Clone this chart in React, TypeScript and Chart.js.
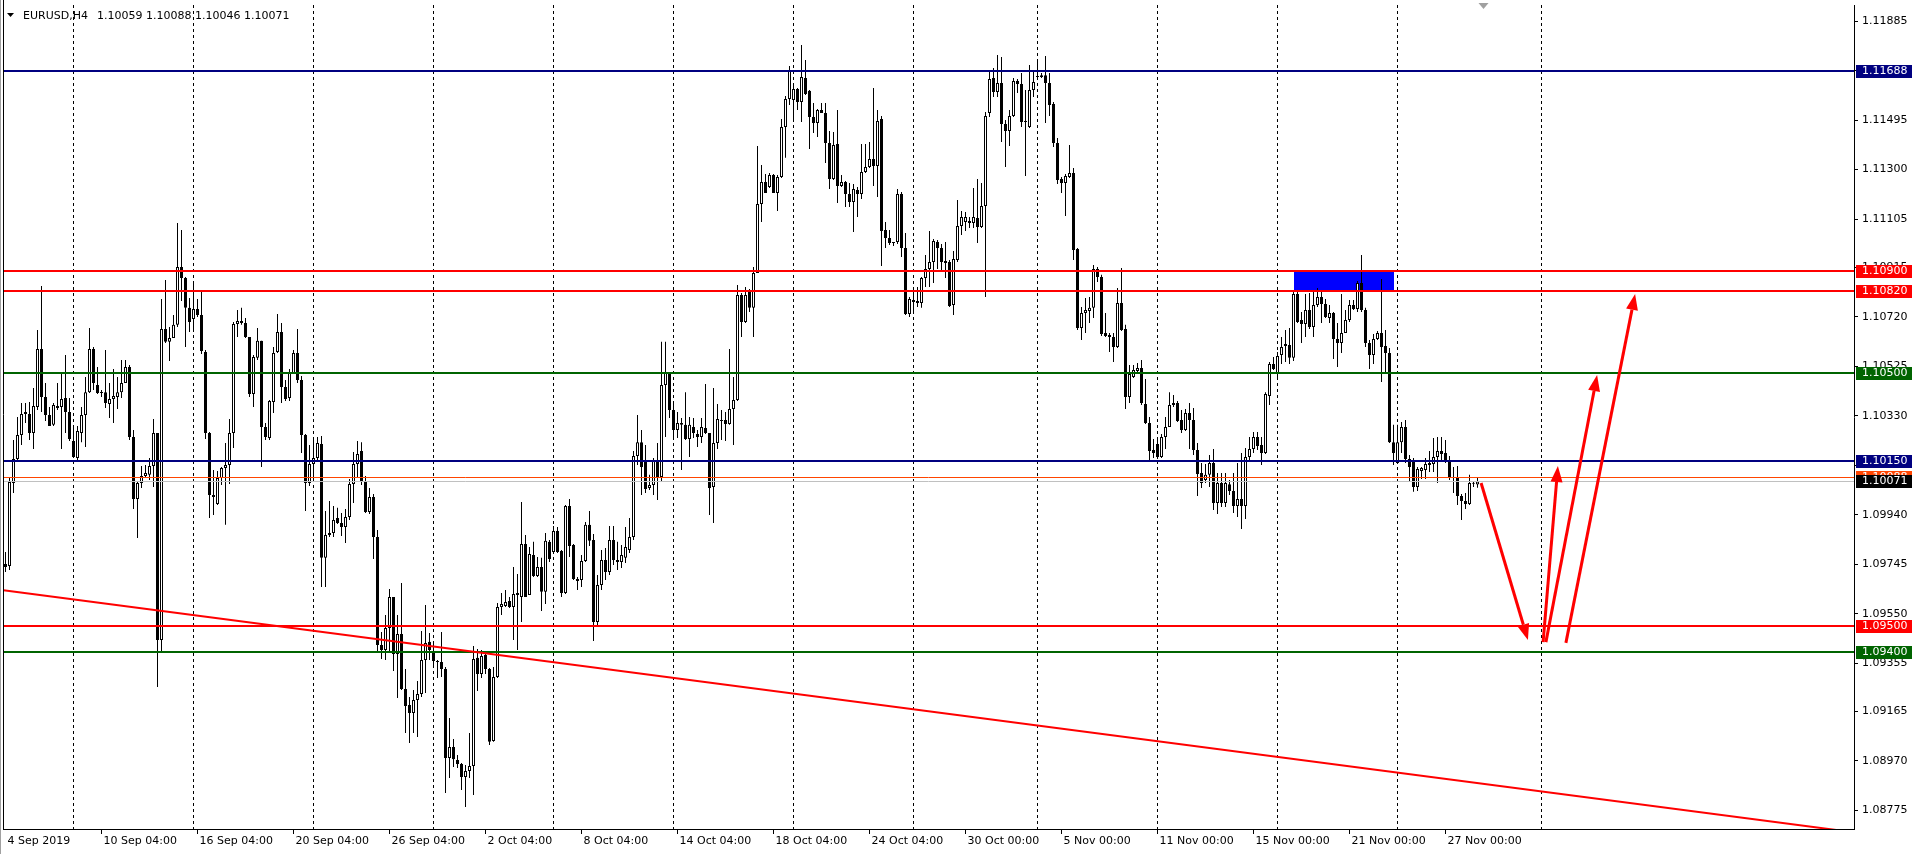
import React, { useEffect, useRef } from "react";
import { Chart, registerables } from "chart.js";

Chart.register(...registerables);

const SYMBOL = "EURUSD,H4";

const OPEN = [
  1.09746, 1.09738, 1.10065, 1.10160, 1.10254, 1.10337, 1.10337, 1.10262, 1.10364, 1.10593,
  1.10404, 1.10333, 1.10294, 1.10368, 1.10364, 1.10400, 1.10345, 1.10230, 1.10163, 1.10262,
  1.10333, 1.10423, 1.10593, 1.10451, 1.10423, 1.10423, 1.10376, 1.10396, 1.10404, 1.10423,
  1.10459, 1.10522, 1.10246, 1.10002, 1.10065, 1.10093, 1.10097, 1.10132, 1.10262, 1.09446,
  1.10672, 1.10621, 1.10636, 1.10688, 1.10916, 1.10873, 1.10755, 1.10711, 1.10751, 1.10727,
  1.10581, 1.10262, 1.10018, 1.09982, 1.10085, 1.10124, 1.10136, 1.10262, 1.10691, 1.10703,
  1.10695, 1.10640, 1.10416, 1.10558, 1.10625, 1.10286, 1.10242, 1.10384, 1.10581, 1.10660,
  1.10443, 1.10400, 1.10498, 1.10577, 1.10471, 1.10254, 1.10065, 1.10140, 1.10163, 1.10219,
  1.09770, 1.09860, 1.09868, 1.09927, 1.09907, 1.09892, 1.09931, 1.10061, 1.10140, 1.10191,
  1.10069, 1.09951, 1.10010, 1.09852, 1.09427, 1.09407, 1.09494, 1.09616, 1.09391, 1.09470,
  1.09253, 1.09190, 1.09159, 1.09210, 1.09234, 1.09368, 1.09439, 1.09395, 1.09360, 1.09360,
  1.09332, 1.08981, 1.09025, 1.08974, 1.08958, 1.08907, 1.08930, 1.08950, 1.09376, 1.09312,
  1.09387, 1.09332, 1.09048, 1.09301, 1.09576, 1.09580, 1.09600, 1.09576, 1.09632, 1.09616,
  1.09825, 1.09624, 1.09781, 1.09699, 1.09734, 1.09636, 1.09833, 1.09793, 1.09876, 1.09797,
  1.09632, 1.09974, 1.09821, 1.09687, 1.09683, 1.09758, 1.09900, 1.09840, 1.09517, 1.09663,
  1.09762, 1.09714, 1.09840, 1.09762, 1.09754, 1.09770, 1.09801, 1.09852, 1.10171, 1.10226,
  1.10156, 1.10045, 1.10057, 1.10156, 1.10089, 1.10451, 1.10498, 1.10353, 1.10274, 1.10301,
  1.10294, 1.10238, 1.10286, 1.10258, 1.10246, 1.10282, 1.10262, 1.10049, 1.10223, 1.10309,
  1.10313, 1.10297, 1.10357, 1.10392, 1.10806, 1.10699, 1.10818, 1.10755, 1.10892, 1.11164,
  1.11251, 1.11231, 1.11278, 1.11208, 1.11271, 1.11468, 1.11578, 1.11574, 1.11617, 1.11566,
  1.11661, 1.11610, 1.11507, 1.11483, 1.11535, 1.11523, 1.11405, 1.11263, 1.11401, 1.11235,
  1.11251, 1.11204, 1.11172, 1.11219, 1.11204, 1.11290, 1.11310, 1.11342, 1.11314, 1.11499,
  1.11062, 1.11030, 1.11015, 1.11015, 1.11204, 1.10991, 1.10731, 1.10786, 1.10782, 1.10774,
  1.10873, 1.10908, 1.10936, 1.11015, 1.10991, 1.10940, 1.10936, 1.10766, 1.10944, 1.11078,
  1.11093, 1.11097, 1.11089, 1.11109, 1.11074, 1.11156, 1.11523, 1.11661, 1.11606, 1.11641,
  1.11479, 1.11452, 1.11511, 1.11649, 1.11637, 1.11487, 1.11468, 1.11613, 1.11665, 1.11665,
  1.11672, 1.11641, 1.11558, 1.11405, 1.11263, 1.11247, 1.11271, 1.11286, 1.10987, 1.10676,
  1.10735, 1.10743, 1.10755, 1.10908, 1.10877, 1.10656, 1.10648, 1.10640, 1.10601, 1.10774,
  1.10672, 1.10404, 1.10483, 1.10506, 1.10518, 1.10376, 1.10301, 1.10195, 1.10219, 1.10167,
  1.10246, 1.10286, 1.10372, 1.10380, 1.10313, 1.10274, 1.10341, 1.10313, 1.10195, 1.10104,
  1.10077, 1.10097, 1.10144, 1.09986, 1.10065, 1.09986, 1.10060, 1.10033, 1.09974, 1.10002,
  1.09974, 1.10167, 1.10199, 1.10246, 1.10215, 1.10183, 1.10408, 1.10534, 1.10498, 1.10569,
  1.10613, 1.10609, 1.10558, 1.10810, 1.10707, 1.10691, 1.10747, 1.10680, 1.10766, 1.10798,
  1.10770, 1.10715, 1.10735, 1.10632, 1.10617, 1.10656, 1.10707, 1.10766, 1.10751, 1.10853,
  1.10747, 1.10617, 1.10569, 1.10632, 1.10656, 1.10605, 1.10577, 1.10226, 1.10144, 1.10226,
  1.10286, 1.10160, 1.10152, 1.10049, 1.10112, 1.10116, 1.10144, 1.10140, 1.10167, 1.10191,
  1.10183, 1.10148, 1.10089, 1.10085, 1.10014, 1.09994, 1.09982, 1.10065, 1.10059,
];

const HIGH = [
  1.09793, 1.10089, 1.10234, 1.10325, 1.10380, 1.10380, 1.10384, 1.10439, 1.10668, 1.10841,
  1.10459, 1.10364, 1.10380, 1.10459, 1.10494, 1.10569, 1.10400, 1.10286, 1.10290, 1.10364,
  1.10483, 1.10676, 1.10601, 1.10522, 1.10431, 1.10589, 1.10459, 1.10514, 1.10483, 1.10550,
  1.10550, 1.10530, 1.10274, 1.10073, 1.10132, 1.10136, 1.10163, 1.10317, 1.10262, 1.10790,
  1.10865, 1.10680, 1.10727, 1.11089, 1.11062, 1.10877, 1.10794, 1.10861, 1.10790, 1.10818,
  1.10589, 1.10266, 1.10116, 1.10112, 1.10128, 1.10223, 1.10317, 1.10699, 1.10747, 1.10755,
  1.10715, 1.10640, 1.10569, 1.10676, 1.10625, 1.10301, 1.10392, 1.10601, 1.10731, 1.10695,
  1.10471, 1.10514, 1.10589, 1.10672, 1.10487, 1.10258, 1.10215, 1.10242, 1.10246, 1.10250,
  1.09955, 1.09994, 1.09974, 1.09967, 1.09947, 1.09963, 1.10081, 1.10187, 1.10230, 1.10226,
  1.10093, 1.10045, 1.10022, 1.09880, 1.09478, 1.09545, 1.09647, 1.09616, 1.09545, 1.09671,
  1.09332, 1.09222, 1.09249, 1.09285, 1.09482, 1.09584, 1.09474, 1.09435, 1.09368, 1.09478,
  1.09340, 1.09139, 1.09056, 1.08993, 1.08962, 1.08954, 1.09080, 1.09423, 1.09411, 1.09407,
  1.09399, 1.09336, 1.09340, 1.09592, 1.09632, 1.09643, 1.09616, 1.09734, 1.09706, 1.09990,
  1.09860, 1.09813, 1.09833, 1.09773, 1.09770, 1.09868, 1.09840, 1.09896, 1.09892, 1.09801,
  1.09978, 1.10002, 1.09825, 1.09695, 1.09781, 1.09911, 1.09955, 1.09864, 1.09702, 1.09801,
  1.09809, 1.09896, 1.09896, 1.09833, 1.09821, 1.09892, 1.09927, 1.10191, 1.10333, 1.10274,
  1.10215, 1.10097, 1.10163, 1.10223, 1.10621, 1.10621, 1.10502, 1.10384, 1.10345, 1.10321,
  1.10423, 1.10325, 1.10321, 1.10274, 1.10321, 1.10455, 1.10262, 1.10439, 1.10376, 1.10353,
  1.10345, 1.10593, 1.10483, 1.10845, 1.10814, 1.10837, 1.10829, 1.10916, 1.11393, 1.11318,
  1.11282, 1.11286, 1.11282, 1.11278, 1.11499, 1.11590, 1.11708, 1.11641, 1.11621, 1.11791,
  1.11732, 1.11613, 1.11562, 1.11539, 1.11562, 1.11562, 1.11452, 1.11448, 1.11535, 1.11278,
  1.11255, 1.11247, 1.11243, 1.11231, 1.11401, 1.11401, 1.11409, 1.11621, 1.11535, 1.11511,
  1.11093, 1.11062, 1.11015, 1.11223, 1.11212, 1.11050, 1.10798, 1.10825, 1.10837, 1.10877,
  1.10963, 1.11058, 1.11026, 1.11022, 1.11007, 1.11015, 1.10944, 1.10979, 1.11180, 1.11137,
  1.11133, 1.11113, 1.11227, 1.11263, 1.11247, 1.11527, 1.11692, 1.11700, 1.11751, 1.11743,
  1.11495, 1.11535, 1.11661, 1.11657, 1.11680, 1.11613, 1.11712, 1.11692, 1.11728, 1.11680,
  1.11747, 1.11680, 1.11566, 1.11424, 1.11271, 1.11282, 1.11397, 1.11306, 1.10991, 1.10758,
  1.10794, 1.10798, 1.10924, 1.10916, 1.10885, 1.10735, 1.10656, 1.10656, 1.10833, 1.10912,
  1.10688, 1.10530, 1.10530, 1.10538, 1.10550, 1.10475, 1.10325, 1.10238, 1.10246, 1.10258,
  1.10325, 1.10423, 1.10412, 1.10388, 1.10353, 1.10357, 1.10380, 1.10360, 1.10223, 1.10144,
  1.10140, 1.10175, 1.10199, 1.10104, 1.10104, 1.10104, 1.10077, 1.10104, 1.10144, 1.10183,
  1.10203, 1.10246, 1.10266, 1.10266, 1.10246, 1.10423, 1.10542, 1.10561, 1.10581, 1.10640,
  1.10668, 1.10676, 1.10821, 1.10818, 1.10739, 1.10810, 1.10814, 1.10818, 1.10833, 1.10818,
  1.10790, 1.10766, 1.10739, 1.10695, 1.10810, 1.10747, 1.10786, 1.10786, 1.10861, 1.10963,
  1.10755, 1.10628, 1.10652, 1.10664, 1.10869, 1.10668, 1.10597, 1.10294, 1.10294, 1.10305,
  1.10313, 1.10175, 1.10163, 1.10128, 1.10128, 1.10163, 1.10191, 1.10242, 1.10246, 1.10246,
  1.10234, 1.10171, 1.10128, 1.10132, 1.10022, 1.10026, 1.10097, 1.10073, 1.10088,
];

const LOW = [
  1.09714, 1.09722, 1.10026, 1.10152, 1.10215, 1.10301, 1.10234, 1.10199, 1.10353, 1.10345,
  1.10309, 1.10290, 1.10290, 1.10353, 1.10199, 1.10262, 1.10230, 1.10163, 1.10156, 1.10226,
  1.10207, 1.10420, 1.10431, 1.10416, 1.10404, 1.10360, 1.10321, 1.10301, 1.10357, 1.10400,
  1.10459, 1.10234, 1.09963, 1.09848, 1.10045, 1.10085, 1.10077, 1.10049, 1.09261, 1.09399,
  1.10617, 1.10546, 1.10636, 1.10680, 1.10782, 1.10601, 1.10660, 1.10660, 1.10719, 1.10573,
  1.10238, 1.09927, 1.09939, 1.09978, 1.10057, 1.09900, 1.10061, 1.10203, 1.10640, 1.10688,
  1.10636, 1.10404, 1.10364, 1.10550, 1.10128, 1.10234, 1.10234, 1.10341, 1.10577, 1.10380,
  1.10388, 1.10388, 1.10498, 1.10459, 1.10183, 1.09955, 1.10053, 1.10069, 1.10148, 1.09655,
  1.09655, 1.09852, 1.09852, 1.09903, 1.09856, 1.09829, 1.09919, 1.09986, 1.10085, 1.10057,
  1.09947, 1.09943, 1.09766, 1.09395, 1.09372, 1.09368, 1.09395, 1.09324, 1.09218, 1.09249,
  1.09080, 1.09041, 1.09080, 1.09064, 1.09222, 1.09238, 1.09368, 1.09336, 1.09297, 1.09301,
  1.08844, 1.08903, 1.08946, 1.08942, 1.08855, 1.08788, 1.08903, 1.08836, 1.09245, 1.09297,
  1.09312, 1.09033, 1.09045, 1.09297, 1.09545, 1.09576, 1.09572, 1.09446, 1.09407, 1.09517,
  1.09616, 1.09624, 1.09695, 1.09695, 1.09561, 1.09588, 1.09754, 1.09793, 1.09789, 1.09616,
  1.09628, 1.09773, 1.09683, 1.09643, 1.09655, 1.09754, 1.09817, 1.09442, 1.09505, 1.09643,
  1.09683, 1.09702, 1.09742, 1.09722, 1.09730, 1.09750, 1.09789, 1.09840, 1.10136, 1.10018,
  1.10026, 1.10037, 1.10018, 1.09998, 1.10069, 1.10246, 1.10321, 1.10234, 1.10242, 1.10116,
  1.10234, 1.10167, 1.10242, 1.10207, 1.10223, 1.10258, 1.09939, 1.09907, 1.10199, 1.10234,
  1.10230, 1.10294, 1.10215, 1.10388, 1.10640, 1.10695, 1.10739, 1.10640, 1.10892, 1.11093,
  1.11208, 1.11227, 1.11208, 1.11137, 1.11267, 1.11346, 1.11554, 1.11487, 1.11535, 1.11487,
  1.11594, 1.11381, 1.11444, 1.11428, 1.11523, 1.11326, 1.11223, 1.11259, 1.11168, 1.11231,
  1.11152, 1.11152, 1.11054, 1.11113, 1.11184, 1.11286, 1.11306, 1.11235, 1.11192, 1.10920,
  1.10991, 1.11003, 1.10999, 1.11007, 1.10955, 1.10727, 1.10719, 1.10731, 1.10758, 1.10755,
  1.10837, 1.10837, 1.10853, 1.10908, 1.10904, 1.10873, 1.10758, 1.10727, 1.10936, 1.11042,
  1.11058, 1.11070, 1.11070, 1.11011, 1.11070, 1.10798, 1.11507, 1.11586, 1.11586, 1.11409,
  1.11310, 1.11393, 1.11507, 1.11602, 1.11468, 1.11275, 1.11464, 1.11586, 1.11661, 1.11661,
  1.11483, 1.11511, 1.11389, 1.11243, 1.11208, 1.11117, 1.11267, 1.10944, 1.10668, 1.10628,
  1.10656, 1.10695, 1.10715, 1.10857, 1.10644, 1.10640, 1.10581, 1.10542, 1.10597, 1.10664,
  1.10357, 1.10380, 1.10479, 1.10502, 1.10372, 1.10297, 1.10152, 1.10163, 1.10160, 1.10163,
  1.10199, 1.10286, 1.10364, 1.10305, 1.10262, 1.10270, 1.10199, 1.10175, 1.10014, 1.10045,
  1.10065, 1.10049, 1.09959, 1.09943, 1.09970, 1.09970, 1.10018, 1.09947, 1.09931, 1.09884,
  1.09923, 1.10156, 1.10183, 1.10195, 1.10136, 1.10179, 1.10372, 1.10510, 1.10479, 1.10534,
  1.10542, 1.10534, 1.10546, 1.10695, 1.10617, 1.10640, 1.10672, 1.10640, 1.10758, 1.10695,
  1.10715, 1.10695, 1.10554, 1.10522, 1.10577, 1.10656, 1.10699, 1.10747, 1.10739, 1.10739,
  1.10601, 1.10514, 1.10534, 1.10628, 1.10463, 1.10502, 1.10223, 1.10136, 1.10140, 1.10183,
  1.10144, 1.10069, 1.10030, 1.10033, 1.10081, 1.10081, 1.10108, 1.10108, 1.10065, 1.10156,
  1.10144, 1.10077, 1.10026, 1.09978, 1.09919, 1.09963, 1.09978, 1.10049, 1.10046,
];

const CLOSE = [
  1.09734, 1.10069, 1.10160, 1.10254, 1.10337, 1.10345, 1.10262, 1.10368, 1.10593, 1.10404,
  1.10333, 1.10290, 1.10372, 1.10360, 1.10396, 1.10345, 1.10238, 1.10167, 1.10270, 1.10333,
  1.10423, 1.10593, 1.10459, 1.10420, 1.10420, 1.10380, 1.10396, 1.10408, 1.10423, 1.10459,
  1.10522, 1.10246, 1.10002, 1.10065, 1.10093, 1.10104, 1.10132, 1.10262, 1.09446, 1.10672,
  1.10621, 1.10636, 1.10688, 1.10916, 1.10873, 1.10755, 1.10699, 1.10751, 1.10727, 1.10585,
  1.10262, 1.10018, 1.10010, 1.10085, 1.10124, 1.10136, 1.10262, 1.10691, 1.10703, 1.10695,
  1.10640, 1.10416, 1.10561, 1.10625, 1.10286, 1.10246, 1.10388, 1.10577, 1.10660, 1.10443,
  1.10396, 1.10498, 1.10577, 1.10471, 1.10254, 1.10065, 1.10140, 1.10163, 1.10223, 1.09770,
  1.09860, 1.09868, 1.09919, 1.09907, 1.09892, 1.09931, 1.10061, 1.10140, 1.10179, 1.10069,
  1.09951, 1.10010, 1.09852, 1.09427, 1.09407, 1.09494, 1.09616, 1.09391, 1.09470, 1.09253,
  1.09186, 1.09159, 1.09210, 1.09234, 1.09368, 1.09435, 1.09407, 1.09364, 1.09360, 1.09332,
  1.08981, 1.09025, 1.08977, 1.08958, 1.08907, 1.08930, 1.08950, 1.09372, 1.09312, 1.09383,
  1.09332, 1.09045, 1.09301, 1.09576, 1.09588, 1.09596, 1.09576, 1.09628, 1.09624, 1.09825,
  1.09616, 1.09785, 1.09699, 1.09734, 1.09636, 1.09837, 1.09766, 1.09876, 1.09793, 1.09632,
  1.09974, 1.09817, 1.09687, 1.09679, 1.09758, 1.09900, 1.09837, 1.09517, 1.09663, 1.09762,
  1.09714, 1.09840, 1.09762, 1.09754, 1.09781, 1.09813, 1.09852, 1.10171, 1.10226, 1.10128,
  1.10041, 1.10057, 1.10156, 1.10089, 1.10451, 1.10498, 1.10353, 1.10274, 1.10301, 1.10294,
  1.10238, 1.10294, 1.10262, 1.10246, 1.10286, 1.10262, 1.10045, 1.10223, 1.10317, 1.10313,
  1.10297, 1.10357, 1.10392, 1.10806, 1.10699, 1.10806, 1.10755, 1.10892, 1.11164, 1.11251,
  1.11208, 1.11278, 1.11208, 1.11271, 1.11468, 1.11578, 1.11688, 1.11617, 1.11566, 1.11665,
  1.11598, 1.11507, 1.11483, 1.11535, 1.11523, 1.11405, 1.11263, 1.11397, 1.11235, 1.11251,
  1.11204, 1.11172, 1.11223, 1.11204, 1.11290, 1.11310, 1.11342, 1.11314, 1.11491, 1.11058,
  1.11030, 1.11011, 1.11011, 1.11204, 1.10991, 1.10731, 1.10790, 1.10778, 1.10774, 1.10873,
  1.10908, 1.10936, 1.11018, 1.10991, 1.10936, 1.10932, 1.10762, 1.10948, 1.11078, 1.11113,
  1.11113, 1.11089, 1.11113, 1.11074, 1.11156, 1.11511, 1.11657, 1.11606, 1.11641, 1.11479,
  1.11452, 1.11511, 1.11649, 1.11637, 1.11487, 1.11491, 1.11613, 1.11645, 1.11669, 1.11672,
  1.11641, 1.11554, 1.11405, 1.11259, 1.11247, 1.11275, 1.11286, 1.10983, 1.10676, 1.10735,
  1.10747, 1.10755, 1.10908, 1.10877, 1.10652, 1.10644, 1.10640, 1.10601, 1.10774, 1.10668,
  1.10404, 1.10494, 1.10510, 1.10518, 1.10380, 1.10301, 1.10191, 1.10183, 1.10167, 1.10246,
  1.10286, 1.10372, 1.10380, 1.10309, 1.10274, 1.10341, 1.10313, 1.10195, 1.10100, 1.10065,
  1.10097, 1.10144, 1.09986, 1.10065, 1.09986, 1.10065, 1.10033, 1.09974, 1.10002, 1.09974,
  1.10167, 1.10199, 1.10246, 1.10211, 1.10183, 1.10416, 1.10534, 1.10514, 1.10565, 1.10601,
  1.10605, 1.10558, 1.10810, 1.10699, 1.10691, 1.10747, 1.10680, 1.10766, 1.10798, 1.10770,
  1.10719, 1.10735, 1.10632, 1.10617, 1.10656, 1.10707, 1.10766, 1.10751, 1.10853, 1.10747,
  1.10617, 1.10569, 1.10632, 1.10656, 1.10601, 1.10577, 1.10226, 1.10183, 1.10226, 1.10286,
  1.10160, 1.10128, 1.10049, 1.10120, 1.10124, 1.10140, 1.10136, 1.10167, 1.10191, 1.10179,
  1.10148, 1.10089, 1.10085, 1.10014, 1.09994, 1.09982, 1.10065, 1.10062, 1.10071,
];

// time axis labels (bar index -> text)
const X_TICK_INDEX = [0, 24, 48, 72, 96, 120, 144, 168, 192, 216, 240, 264, 288, 312, 336, 360];
const X_TICK_LABELS = [
  "4 Sep 2019", "10 Sep 04:00", "16 Sep 04:00", "20 Sep 04:00", "26 Sep 04:00",
  "2 Oct 04:00", "8 Oct 04:00", "14 Oct 04:00", "18 Oct 04:00", "24 Oct 04:00",
  "30 Oct 00:00", "5 Nov 00:00", "11 Nov 00:00", "15 Nov 00:00", "21 Nov 00:00", "27 Nov 00:00",
];
// weekly separators (bar index)
const WEEK_GRID_INDEX = [17, 47, 77, 107, 137, 167, 197, 227, 258, 288, 318, 348, 384];

// price scale labels
const Y_TICKS = [
  1.11885, 1.1169, 1.11495, 1.113, 1.11105, 1.10915, 1.1072, 1.10525, 1.1033,
  1.10135, 1.0994, 1.09745, 1.0955, 1.09355, 1.09165, 1.0897, 1.08775,
];
const Y_MIN = 1.087017;
const Y_MAX = 1.119483;
const X_MIN = -0.625;
const X_MAX = 462.125;

// horizontal levels
const LEVEL_PRICES = [1.11688, 1.109, 1.1082, 1.105, 1.1015, 1.095, 1.094];
const LEVEL_COLORS = ["#000080", "#FF0000", "#FF0000", "#006400", "#000080", "#FF0000", "#006400"];
const ASK_PRICE = 1.10088;
const BID_PRICE = CLOSE[CLOSE.length - 1];

// right-side price tags (drawn in this order)
const TAG_PRICES = [1.11688, 1.109, 1.1082, 1.105, 1.095, 1.094, 1.10088, 1.1015, 1.10071];
const TAG_COLORS = ["#000080", "#FF0000", "#FF0000", "#006400", "#FF0000", "#006400", "#FF4500", "#000080", "#000000"];

// blue zone (bar range, price range)
const ZONE_BARS = [322, 347];
const ZONE_PRICES = [1.1082, 1.109];

// red trend line (bar index, price)
const TREND_BARS = [-0.5, 460];
const TREND_PRICES = [1.09642, 1.08693];

// red arrows (from bar/price -> to bar/price)
const ARROW_FROM_BAR = [368.9, 384.4, 385.1, 390.1];
const ARROW_FROM_PRICE = [1.10065, 1.09438, 1.09438, 1.09435];
const ARROW_TO_BAR = [380.6, 388.1, 397.9, 407.4];
const ARROW_TO_PRICE = [1.09446, 1.10132, 1.1049, 1.1081];

const FONT = "DejaVu Sans";

function drawArrow(ctx: CanvasRenderingContext2D, x1: number, y1: number, x2: number, y2: number) {
  const ang = Math.atan2(y2 - y1, x2 - x1);
  const headLen = 16;
  const headW = 6;
  const bx = x2 - headLen * Math.cos(ang);
  const by = y2 - headLen * Math.sin(ang);
  ctx.beginPath();
  ctx.moveTo(x1, y1);
  ctx.lineTo(bx, by);
  ctx.stroke();
  ctx.beginPath();
  ctx.moveTo(x2, y2);
  ctx.lineTo(bx + headW * Math.sin(ang), by - headW * Math.cos(ang));
  ctx.lineTo(bx - headW * Math.sin(ang), by + headW * Math.cos(ang));
  ctx.closePath();
  ctx.fill();
}

const overlayPlugin = {
  id: "mt4overlay",
  beforeDatasetsDraw(chart: any) {
    const { ctx, chartArea: a, scales } = chart;
    const x = scales.x;
    const y = scales.y;
    ctx.save();
    ctx.beginPath();
    ctx.rect(a.left, a.top, a.right - a.left, a.bottom - a.top);
    ctx.clip();
    ctx.strokeStyle = "#000";
    ctx.lineWidth = 1;
    ctx.setLineDash([3, 3]);
    for (const g of WEEK_GRID_INDEX) {
      const px = Math.floor(x.getPixelForValue(g)) + 0.5;
      ctx.beginPath();
      ctx.moveTo(px, a.top);
      ctx.lineTo(px, a.bottom);
      ctx.stroke();
    }
    ctx.setLineDash([]);
    const zx0 = x.getPixelForValue(ZONE_BARS[0]);
    const zx1 = x.getPixelForValue(ZONE_BARS[1]);
    const zy0 = y.getPixelForValue(ZONE_PRICES[1]);
    const zy1 = y.getPixelForValue(ZONE_PRICES[0]);
    ctx.fillStyle = "#0000FF";
    ctx.fillRect(Math.round(zx0), Math.round(zy0), Math.round(zx1 - zx0), Math.round(zy1 - zy0));
    ctx.restore();
  },
  afterDatasetsDraw(chart: any) {
    const { ctx, chartArea: a, scales } = chart;
    const x = scales.x;
    const y = scales.y;
    ctx.save();
    ctx.beginPath();
    ctx.rect(a.left, a.top, a.right - a.left, a.bottom - a.top);
    ctx.clip();
    ctx.lineWidth = 1;
    ctx.strokeStyle = "#C0C0C0";
    let py = Math.floor(y.getPixelForValue(BID_PRICE)) + 0.5;
    ctx.beginPath(); ctx.moveTo(a.left, py); ctx.lineTo(a.right, py); ctx.stroke();
    ctx.strokeStyle = "#FF4500";
    py = Math.floor(y.getPixelForValue(ASK_PRICE)) + 0.5;
    ctx.beginPath(); ctx.moveTo(a.left, py); ctx.lineTo(a.right, py); ctx.stroke();
    ctx.lineWidth = 2;
    LEVEL_PRICES.forEach((p, i) => {
      const ly = Math.round(y.getPixelForValue(p));
      ctx.strokeStyle = LEVEL_COLORS[i];
      ctx.beginPath();
      ctx.moveTo(a.left, ly);
      ctx.lineTo(a.right, ly);
      ctx.stroke();
    });
    ctx.strokeStyle = "#FF0000";
    ctx.lineWidth = 2;
    ctx.beginPath();
    ctx.moveTo(x.getPixelForValue(TREND_BARS[0]), y.getPixelForValue(TREND_PRICES[0]));
    ctx.lineTo(x.getPixelForValue(TREND_BARS[1]), y.getPixelForValue(TREND_PRICES[1]));
    ctx.stroke();
    ctx.strokeStyle = "#FF0000";
    ctx.fillStyle = "#FF0000";
    ctx.lineWidth = 3;
    for (let i = 0; i < ARROW_FROM_BAR.length; i++) {
      drawArrow(
        ctx,
        x.getPixelForValue(ARROW_FROM_BAR[i]),
        y.getPixelForValue(ARROW_FROM_PRICE[i]),
        x.getPixelForValue(ARROW_TO_BAR[i]),
        y.getPixelForValue(ARROW_TO_PRICE[i])
      );
    }
    ctx.restore();
  },
  afterDraw(chart: any) {
    const { ctx, chartArea: a, scales } = chart;
    const x = scales.x;
    const y = scales.y;
    ctx.save();
    ctx.strokeStyle = "#000";
    ctx.lineWidth = 1;
    ctx.beginPath();
    ctx.moveTo(a.left + 0.5, a.bottom);
    ctx.lineTo(a.left + 0.5, 0);
    ctx.stroke();
    ctx.strokeStyle = "#A0A0A0";
    ctx.beginPath();
    ctx.moveTo(0.5, 0);
    ctx.lineTo(0.5, chart.height);
    ctx.stroke();
    ctx.font = `11px '${FONT}'`;
    ctx.textBaseline = "middle";
    ctx.textAlign = "left";
    TAG_PRICES.forEach((p, i) => {
      const ty = Math.round(y.getPixelForValue(p));
      ctx.fillStyle = TAG_COLORS[i];
      ctx.fillRect(a.right + 2, ty - 6, 56, 13);
      ctx.fillStyle = "#FFFFFF";
      ctx.fillText(p.toFixed(5), a.right + 8, ty + 0.5);
    });
    ctx.fillStyle = "#000";
    ctx.beginPath();
    ctx.moveTo(7, 13);
    ctx.lineTo(14, 13);
    ctx.lineTo(10.5, 17);
    ctx.closePath();
    ctx.fill();
    const n = CLOSE.length - 1;
    ctx.fillText(SYMBOL, 23, 16);
    ctx.fillText(
      `${OPEN[n].toFixed(5)} ${HIGH[n].toFixed(5)} ${LOW[n].toFixed(5)} ${CLOSE[n].toFixed(5)}`,
      97,
      16
    );
    const sx = x.getPixelForValue(CLOSE.length + 0.5);
    ctx.fillStyle = "#A0A0A0";
    ctx.beginPath();
    ctx.moveTo(sx - 5, a.top - 2);
    ctx.lineTo(sx + 5, a.top - 2);
    ctx.lineTo(sx, a.top + 4);
    ctx.closePath();
    ctx.fill();
    ctx.restore();
  },
};

export default function App() {
  const canvasRef = useRef<HTMLCanvasElement | null>(null);

  useEffect(() => {
    document.body.style.margin = "0";
    document.body.style.background = "#ffffff";
    const canvas = canvasRef.current;
    if (!canvas) return;

    const bodyData = CLOSE.map((c, i) => ({ x: i, y: [OPEN[i], c] }));
    const wickData = HIGH.map((h, i) => ({ x: i, y: [LOW[i], h] }));
    const bodyColors = CLOSE.map((c, i) => (c >= OPEN[i] ? "#FFFFFF" : "#000000"));

    Chart.defaults.font.family = FONT;

    const chart = new Chart(canvas, {
      type: "bar",
      data: {
        datasets: [
          {
            data: bodyData as any,
            backgroundColor: bodyColors,
            borderColor: "#000000",
            borderWidth: 1,
            borderSkipped: false,
            barThickness: 3,
            grouped: false,
            inflateAmount: 0,
            minBarLength: 1,
            order: 0,
          } as any,
          {
            data: wickData as any,
            backgroundColor: "#000000",
            borderWidth: 0,
            barThickness: 1,
            grouped: false,
            inflateAmount: 0,
            minBarLength: 1,
            order: 1,
          } as any,
        ],
      },
      options: {
        animation: false,
        responsive: false,
        events: [],
        layout: { padding: { left: 3, top: 5, right: 0, bottom: 0 } },
        plugins: {
          legend: { display: false },
          tooltip: { enabled: false },
          title: { display: false },
        },
        scales: {
          x: {
            type: "linear",
            position: "bottom",
            offset: false,
            min: X_MIN,
            max: X_MAX,
            afterBuildTicks: (s: any) => {
              s.ticks = X_TICK_INDEX.map((v) => ({ value: v }));
            },
            afterFit: (s: any) => {
              s.height = 25;
              s.paddingLeft = 0;
              s.paddingRight = 0;
            },
            grid: {
              offset: false,
              drawOnChartArea: false,
              drawTicks: true,
              tickLength: 5,
              color: "#000000",
              tickColor: (c: any) => (c.index === 0 ? "rgba(0,0,0,0)" : "#000000"),
            },
            border: { display: true, color: "#000000", width: 1 },
            ticks: {
              autoSkip: false,
              maxRotation: 0,
              minRotation: 0,
              align: "start",
              labelOffset: 2,
              padding: 1,
              color: "#000000",
              font: { family: FONT, size: 11 },
              callback: (v: any) => {
                const i = X_TICK_INDEX.indexOf(Number(v));
                return i >= 0 ? X_TICK_LABELS[i] : "";
              },
            },
          } as any,
          y: {
            type: "linear",
            position: "right",
            min: Y_MIN,
            max: Y_MAX,
            afterBuildTicks: (s: any) => {
              s.ticks = Y_TICKS.map((v) => ({ value: v }));
            },
            afterFit: (s: any) => {
              s.width = 65;
              s.paddingTop = 0;
              s.paddingBottom = 0;
            },
            grid: {
              drawOnChartArea: false,
              drawTicks: true,
              tickLength: 4,
              color: "#000000",
            },
            border: { display: true, color: "#000000", width: 1 },
            ticks: {
              autoSkip: false,
              padding: 4,
              color: "#000000",
              font: { family: FONT, size: 11 },
              callback: (v: any) => Number(v).toFixed(5),
            },
          } as any,
        },
      },
      plugins: [overlayPlugin],
    });

    return () => {
      chart.destroy();
    };
  }, []);

  return (
    <div style={{ width: 1919, height: 854, background: "#ffffff" }}>
      <canvas
        ref={canvasRef}
        width={1919}
        height={854}
        style={{ display: "block", width: 1919, height: 854 }}
      />
    </div>
  );
}
